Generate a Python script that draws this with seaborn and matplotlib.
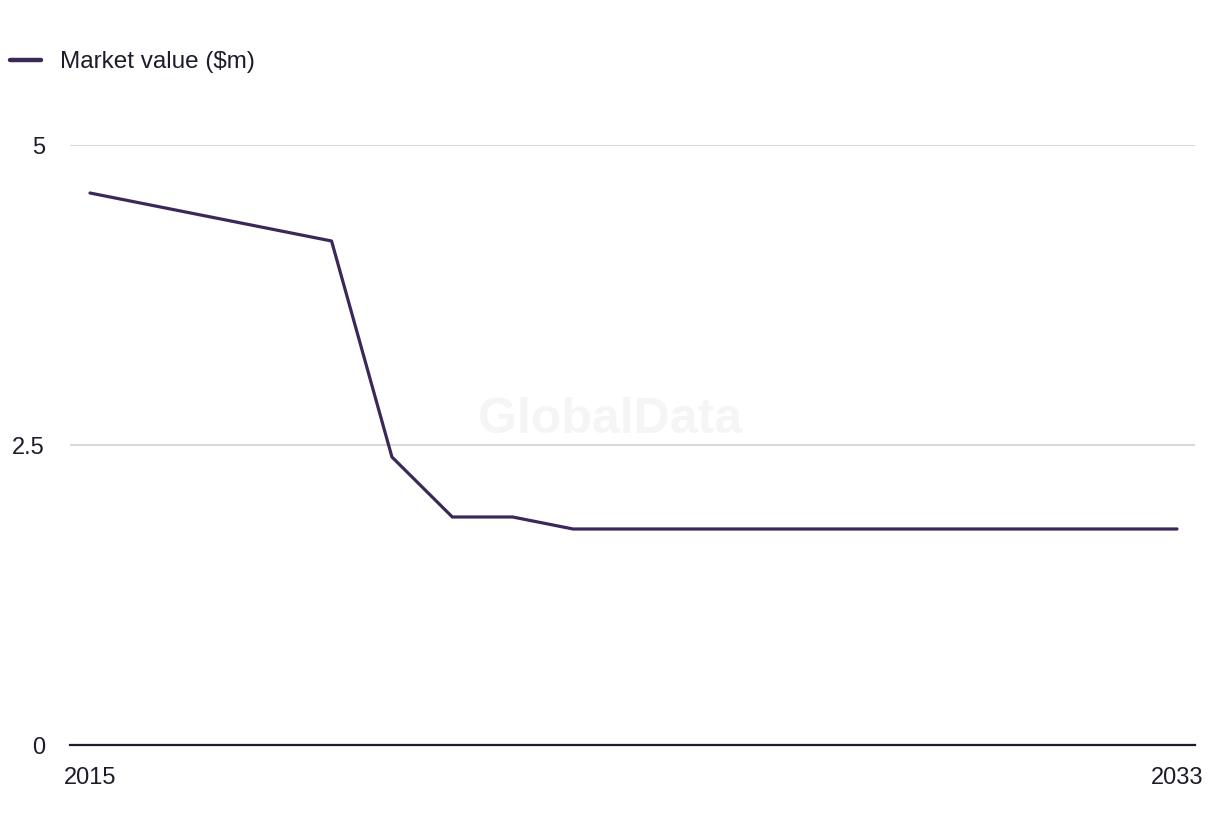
import pandas as pd
import matplotlib
matplotlib.use('Agg')
import matplotlib.pyplot as plt
import seaborn as sns

# Data
years = list(range(2015, 2034))
market_value = [4.6, 4.5, 4.4, 4.3, 4.2, 2.4, 1.9, 1.9, 1.8, 1.8,
                1.8, 1.8, 1.8, 1.8, 1.8, 1.8, 1.8, 1.8, 1.8]
series_name = 'Market value ($m)'
y_ticks = [0, 2.5, 5]
y_tick_labels = ['0', '2.5', '5']
x_tick_labels = ['2015', '2033']

df = pd.DataFrame({'year': years, 'value': market_value})

sns.set_style('white')
plt.rcParams['font.family'] = ['Liberation Sans', 'DejaVu Sans']

line_color = '#3b2858'
text_color = '#1c1c2b'

fig = plt.figure(figsize=(12.2, 8.36), dpi=100)
ax = fig.add_axes([70 / 1220, 1 - 745 / 836, 1125 / 1220, 600 / 836])

sns.lineplot(data=df, x='year', y='value', ax=ax, color=line_color,
             linewidth=2.3, label=series_name)

# Axis limits and ticks
ax.set_xlim(2015 - 20 / 60.4, 2033 + 18 / 60.4)
ax.set_ylim(0, 5)
ax.set_yticks(y_ticks)
ax.set_yticklabels(y_tick_labels)
ax.set_xticks([years[0], years[-1]])
ax.set_xticklabels(x_tick_labels)
ax.tick_params(axis='both', length=0, labelsize=17, colors=text_color)
ax.tick_params(axis='y', pad=18)
ax.tick_params(axis='x', pad=16)
for lab in ax.get_yticklabels():
    lab.set_horizontalalignment('right')

ax.set_xlabel('')
ax.set_ylabel('')

# Grid and spines
ax.yaxis.grid(True, color='#d9d9d9', linewidth=1.5)
ax.xaxis.grid(False)
ax.set_axisbelow(True)
for side in ['top', 'right', 'left']:
    ax.spines[side].set_visible(False)
ax.spines['bottom'].set_color(text_color)
ax.spines['bottom'].set_linewidth(1.6)
ax.spines['bottom'].set_zorder(3)

# Watermark
fig.text(0.5, 1 - 420 / 836, 'GlobalData', ha='center', va='center',
         fontsize=36, fontweight='bold', color='#f5f5f5', zorder=0)

# Legend at top left
leg = ax.legend(loc='center left', bbox_to_anchor=(10 / 1220, 1 - 62 / 836),
                bbox_transform=fig.transFigure, frameon=False, fontsize=17.5,
                handlelength=1.27, handletextpad=0.8, labelcolor=text_color,
                borderaxespad=0, borderpad=0)
for h in leg.get_lines():
    h.set_linewidth(3.2)

fig.savefig('out.png', dpi=100)
